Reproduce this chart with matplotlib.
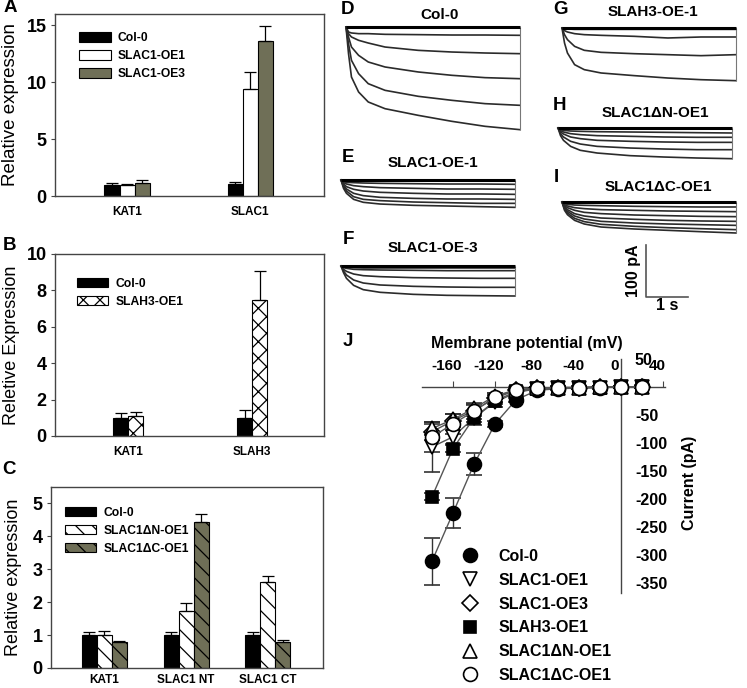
import numpy as np
import matplotlib
matplotlib.use('Agg')
import matplotlib.pyplot as plt
from matplotlib.lines import Line2D
from matplotlib.transforms import ScaledTranslation

plt.rcParams['font.family'] = ['Liberation Sans', 'DejaVu Sans']
plt.rcParams['hatch.linewidth'] = 0.9

W, H = 747, 688
OLIVE = '#6f6f57'
AXCOL = '#444444'

# ---- A: SLAC1 over-expression lines
a_genes = ['KAT1', 'SLAC1']
a_lines = ['Col-0', 'SLAC1-OE1', 'SLAC1-OE3']
a_mean = [[1.0, 1.05], [0.95, 9.4], [1.15, 13.6]]
a_err = [[0.1, 0.2], [0.1, 1.5], [0.3, 1.35]]

# ---- B: SLAH3 over-expression line
b_genes = ['KAT1', 'SLAH3']
b_lines = ['Col-0', 'SLAH3-OE1']
b_mean = [[1.0, 1.0], [1.1, 7.45]]
b_err = [[0.28, 0.42], [0.2, 1.6]]

# ---- C: truncated SLAC1 lines
c_genes = ['KAT1', 'SLAC1 NT', 'SLAC1 CT']
c_lines = ['Col-0', 'SLAC1\u0394N-OE1', 'SLAC1\u0394C-OE1']
c_mean = [[1.0, 1.0, 1.0], [1.0, 1.72, 2.6], [0.8, 4.43, 0.78]]
c_err = [[0.1, 0.08, 0.1], [0.12, 0.24, 0.2], [0.02, 0.26, 0.07]]

# ---- D-I: whole-cell current traces (pA) read at these times (s)
t_s = [0, 0.06, 0.13, 0.3, 0.53, 0.93, 1.72, 2.52, 3.31, 4.14]
d_traces = [
    [0, -9.6, -11.5, -12.8, -12.8, -14.1, -14.7, -15.4, -15.4, -16.0],
    [0, -12.8, -19.2, -25.6, -30.8, -38.5, -44.9, -48.1, -50.0, -51.3],
    [0, -19.2, -38.5, -54.5, -67.3, -76.9, -86.5, -92.9, -97.4, -99.4],
    [0, -32.1, -64.1, -89.7, -109.0, -121.8, -133.3, -141.0, -147.4, -150.6],
    [0, -51.3, -96.2, -125.0, -144.2, -157.1, -169.9, -181.4, -191.0, -197.4],
]
e_traces = [
    [0, -3.2, -4.5, -5.1, -5.8, -6.4, -7.1, -7.7, -7.7, -8.3],
    [0, -5.1, -7.7, -10.9, -12.8, -14.7, -16.0, -17.3, -17.3, -17.9],
    [0, -7.7, -12.8, -17.9, -21.2, -23.7, -25.6, -26.9, -26.9, -27.6],
    [0, -10.3, -17.3, -25.6, -30.1, -33.3, -35.3, -36.5, -36.5, -37.2],
    [0, -12.8, -21.2, -32.1, -37.2, -39.7, -42.3, -43.6, -44.9, -44.9],
    [0, -16.0, -25.6, -37.2, -42.9, -46.2, -48.7, -50.0, -51.3, -52.6],
]
f_traces = [
    [0, -1.9, -2.6, -3.2, -3.8, -3.8, -3.8, -3.8, -3.8, -3.8],
    [0, -3.2, -4.5, -6.4, -7.1, -7.7, -8.3, -9.0, -9.0, -9.0],
    [0, -6.4, -10.3, -15.4, -18.6, -20.5, -22.4, -23.1, -23.7, -23.7],
    [0, -9.6, -17.3, -26.9, -32.7, -36.5, -39.1, -40.4, -41.0, -41.0],
    [0, -12.8, -23.7, -37.2, -45.5, -50.6, -54.5, -56.4, -57.1, -57.7],
]
g_traces = [
    [0, -1.3, -1.9, -2.6, -2.6, -2.6, -2.6, -2.6, -2.6, -2.6],
    [0, -5.1, -7.7, -10.9, -12.8, -14.1, -16.0, -19.2, -17.3, -17.3],
    [0, -12.8, -22.4, -35.3, -42.9, -46.8, -49.4, -51.3, -53.2, -51.3],
    [0, -28.8, -48.1, -70.5, -80.1, -86.5, -91.6, -96.2, -99.4, -101.3],
]
h_traces = [
    [0, -3.2, -4.5, -5.8, -6.4, -7.1, -7.7, -8.3, -9.0, -9.6],
    [0, -5.1, -7.7, -10.9, -12.8, -14.7, -16.0, -17.3, -17.9, -17.9],
    [0, -7.7, -11.5, -17.3, -20.5, -23.7, -25.6, -26.9, -27.6, -27.6],
    [0, -10.9, -17.3, -25.6, -30.8, -35.3, -38.5, -40.4, -41.7, -41.7],
    [0, -14.7, -23.7, -35.3, -42.9, -48.1, -53.2, -55.8, -57.7, -59.0],
]
i_traces = [
    [0, -3.2, -4.5, -5.8, -6.4, -7.1, -8.3, -9.0, -9.6, -9.6],
    [0, -5.1, -7.7, -10.9, -12.8, -14.7, -16.0, -17.3, -17.9, -18.6],
    [0, -7.1, -10.9, -16.0, -19.9, -22.4, -25.0, -26.3, -27.6, -28.2],
    [0, -9.6, -14.7, -22.4, -26.9, -30.8, -33.3, -35.3, -36.5, -37.2],
    [0, -11.5, -17.9, -26.9, -32.7, -37.2, -40.4, -42.3, -43.6, -44.9],
    [0, -13.5, -21.2, -31.4, -37.8, -42.9, -46.8, -49.4, -51.3, -53.2],
    [0, -16.0, -24.4, -35.3, -42.3, -48.1, -51.9, -54.5, -57.1, -59.6],
]

# ---- J: I-V curves
j_mv = [-180, -160, -140, -120, -100, -80, -60, -40, -20, 0, 20]
col0_i = [-311, -225, -138, -66, -23, -6, -3, -2, -1, 0, 1]
col0_e = [42, 27, 20, 6, 4, 3, 2, 2, 2, 2, 2]
oe1_i = [-107, -89, -55, -27, -10, -3, -2, -1, -1, 0, 0]
oe1_e = [44, 12, 12, 8, 4, 2, 2, 2, 2, 2, 2]
oe3_i = [-80, -60, -42, -20, -6, -2, -1, -1, 0, 0, 0]
oe3_e = [14, 12, 10, 6, 3, 2, 2, 2, 2, 2, 2]
slah3_i = [-196, -110, -55, -25, -8, -3, -2, -1, -1, 0, 0]
slah3_e = [6, 6, 8, 5, 3, 2, 2, 2, 2, 2, 2]
dn_i = [-74, -58, -38, -16, -5, -2, -1, -1, 0, 0, 0]
dn_e = [12, 10, 8, 6, 3, 2, 2, 2, 2, 2, 2]
dc_i = [-89, -66, -43, -18, -5, -2, -1, -1, 0, 0, 0]
dc_e = [27, 18, 14, 8, 3, 2, 2, 2, 2, 2, 2]
j_labels = ['Col-0', 'SLAC1-OE1', 'SLAC1-OE3', 'SLAH3-OE1',
            'SLAC1\u0394N-OE1', 'SLAC1\u0394C-OE1']

fig = plt.figure(figsize=(W / 100, H / 100), dpi=100)


def px_axes(left, top, right, bottom):
    return fig.add_axes([left / W, 1 - bottom / H, (right - left) / W, (bottom - top) / H])


def ftext(x, y, s, **kw):
    kw.setdefault('ha', 'center')
    kw.setdefault('va', 'center')
    fig.text(x / W, 1 - y / H, s, **kw)


def bar_panel(ax, genes, lines, means, errs, styles, width, xlim, ylim, yticks,
              ylabel, ylab_x, ylab_size, leg_anchor, xpad=7):
    x = np.arange(len(genes))
    n = len(lines)
    for k in range(n):
        pos = x + (k - (n - 1) / 2) * width
        ax.bar(pos, means[k], width, label=lines[k], edgecolor='black',
               linewidth=0.8, **styles[k])
        ax.errorbar(pos, means[k], yerr=[np.zeros(len(genes)), errs[k]], fmt='none',
                    ecolor='black', elinewidth=0.9, capsize=4, capthick=0.9)
    ax.set_xlim(*xlim)
    ax.set_ylim(*ylim)
    ax.set_xticks(x)
    ax.set_xticklabels(genes, fontsize=8.5, fontweight='bold')
    ax.set_yticks(yticks)
    ax.set_yticklabels([str(v) for v in yticks], fontsize=13, fontweight='bold')
    ax.tick_params(axis='x', length=0, pad=xpad)
    ax.tick_params(axis='y', length=3, pad=3, color=AXCOL)
    for sp in ax.spines.values():
        sp.set_color(AXCOL)
        sp.set_linewidth(1.0)
    ax.set_ylabel(ylabel, fontsize=ylab_size)
    ax.yaxis.set_label_coords(ylab_x, 0.5)
    ax.legend(loc='upper left', bbox_to_anchor=leg_anchor, frameon=False,
              prop={'size': 8.7, 'weight': 'bold'}, handlelength=2.6,
              handleheight=0.8, labelspacing=0.5, borderpad=0, borderaxespad=0,
              handletextpad=0.6)


# A
axA = px_axes(55, 14, 324, 196)
bar_panel(axA, a_genes, a_lines, a_mean, a_err,
          [dict(color='black'), dict(color='white'), dict(color=OLIVE)],
          0.122, (-0.585, 1.60), (0, 16), [0, 5, 10, 15],
          'Relative expression', -0.134, 13.5, (0.09, 0.9))

# B
axB = px_axes(55, 254, 324, 436)
bar_panel(axB, b_genes, b_lines, b_mean, b_err,
          [dict(color='black'), dict(color='white', hatch='xx')],
          0.121, (-0.589, 1.58), (0, 10), [0, 2, 4, 6, 8, 10],
          'Reletive Expression', -0.13, 13, (0.08, 0.87))

# C
axC = px_axes(51, 487, 323, 668)
bar_panel(axC, c_genes, c_lines, c_mean, c_err,
          [dict(color='black'), dict(color='white', hatch='\\\\'),
           dict(color=OLIVE, hatch='\\\\')],
          0.184, (-0.656, 2.68), (0, 5.5), [0, 1, 2, 3, 4, 5],
          'Relative expression', -0.107, 13, (0.05, 0.89), xpad=4)

# traces: 42 px per second, 52 px per 100 pA
PX_S = 42
PX_100PA = 52


def trace_panel(left, base, width, depth, traces):
    ax = fig.add_axes([left / W, 1 - (base + depth) / H, width / W, (depth + 4) / H])
    ax.set_xlim(0, width / PX_S)
    ax.set_ylim(-depth * 100 / PX_100PA, 4 * 100 / PX_100PA)
    ax.axis('off')
    for tr in traces:
        ax.plot(t_s, tr, color='#2b2b2b', lw=1.2, clip_on=False)
    low = min(min(tr) for tr in traces)
    ax.vlines(t_s[-1], low, 0, color='#777777', lw=0.8)
    ax.plot([t_s[0], t_s[-1]], [0, 0], color='black', lw=2.2, solid_capstyle='butt')
    return ax


trace_panel(346, 27, 176, 110, d_traces)
trace_panel(341, 180, 182, 40, e_traces)
trace_panel(341, 266, 182, 40, f_traces)
trace_panel(562, 28, 178, 70, g_traces)
trace_panel(558, 128, 182, 45, h_traces)
axI = trace_panel(562, 202, 178, 45, i_traces)

# scale bar (100 pA, 1 s) drawn in the trace scale of panel I
sx, sy = (646 - 562) / PX_S, -(297 - 202) * 100 / PX_100PA
axI.plot([sx, sx, sx + 1], [sy + 100, sy, sy], color='#555555', lw=1.2, clip_on=False)
axI.text(sx - 0.3, sy + 50, '100 pA', rotation=90, ha='center', va='center',
         fontsize=11.5, fontweight='bold', clip_on=False)
axI.text(sx + 0.5, sy - 17, '1 s', ha='center', va='center',
         fontsize=11.5, fontweight='bold', clip_on=False)

titles = [(440, 15, 'Col-0'), (433, 163, 'SLAC1-OE-1'), (433, 248, 'SLAC1-OE-3'),
          (653, 12, 'SLAH3-OE-1'), (655, 113, 'SLAC1\u0394N-OE1'),
          (658, 187, 'SLAC1\u0394C-OE1')]
for x, y, s in titles:
    ftext(x, y, s, fontsize=11, fontweight='bold')

letters = [(10, 8, 'A'), (9, 246, 'B'), (9, 470, 'C'), (348, 10, 'D'), (348, 158, 'E'),
           (348, 240, 'F'), (560, 10, 'G'), (560, 105, 'H'), (556, 177, 'I'),
           (348, 342, 'J')]
for x, y, s in letters:
    ftext(x, y, s, fontsize=13.5, fontweight='bold')

# J
axJ = px_axes(400, 335, 705, 688)
axJ.set_xlim((400 - 621) / 1.05, (705 - 621) / 1.05)
axJ.set_ylim((387 - 688) / 0.56, (387 - 335) / 0.56)
for side in ['bottom', 'left']:
    axJ.spines[side].set_visible(False)
axJ.spines['top'].set_position(('data', 0))
axJ.spines['right'].set_position(('data', 0))
axJ.spines['top'].set_bounds(-190, 42)
axJ.spines['right'].set_bounds(-368, 50)
for side in ['top', 'right']:
    axJ.spines[side].set_color(AXCOL)
    axJ.spines[side].set_linewidth(1.0)
axJ.xaxis.set_ticks_position('top')
axJ.yaxis.set_ticks_position('right')
axJ.xaxis.set_label_position('top')
axJ.yaxis.set_label_position('right')
xt = [-160, -120, -80, -40, 0, 40]
yt = [50, -50, -100, -150, -200, -250, -300, -350]
axJ.set_xticks(xt)
axJ.set_xticklabels([str(v) for v in xt], fontsize=11, fontweight='bold')
axJ.set_yticks(yt)
axJ.set_yticklabels([str(v) for v in yt], fontsize=11.5, fontweight='bold')
axJ.tick_params(axis='x', direction='out', length=4, pad=6, color=AXCOL)
axJ.tick_params(axis='y', length=0, pad=10)
# tick labels sit a few pixels left of their ticks in the original
shift = ScaledTranslation(-6 / 100, 0, fig.dpi_scale_trans)
for lab in axJ.get_xticklabels():
    lab.set_transform(lab.get_transform() + shift)
axJ.set_xlabel('Membrane potential (mV)', fontsize=11.5, fontweight='bold')
axJ.xaxis.set_label_coords(0.416, 0.962)
axJ.set_ylabel('Current (pA)', fontsize=11.5, fontweight='bold')
axJ.yaxis.set_label_coords(0.925, 0.58)

series = [
    (col0_i, col0_e, 'o', 'black', 10),
    (oe1_i, oe1_e, 'v', 'white', 10),
    (oe3_i, oe3_e, 'D', 'white', 8),
    (slah3_i, slah3_e, 's', 'black', 9),
    (dn_i, dn_e, '^', 'white', 10),
    (dc_i, dc_e, 'o', 'white', 10),
]
handles = []
for (vals, errs, mk, fc, ms), lab in zip(series, j_labels):
    axJ.errorbar(j_mv, vals, yerr=errs, fmt='-', color='#555555', lw=1.0,
                 marker=mk, ms=ms, mfc=fc, mec='black', mew=1.2,
                 ecolor='#333333', elinewidth=1.0, capsize=6, capthick=1.0,
                 zorder=3)
    handles.append(Line2D([], [], ls='none', marker=mk, ms=ms, mfc=fc, mec='black',
                          mew=1.2, label=lab))
fig.legend(handles=handles, loc='upper left', bbox_to_anchor=(460 / W, 1 - 549 / H),
           frameon=False, prop={'size': 11.5, 'weight': 'bold'}, handlelength=1.2,
           handletextpad=1.2, labelspacing=0.55, borderpad=0, borderaxespad=0)

fig.savefig('out.png', dpi=100)
